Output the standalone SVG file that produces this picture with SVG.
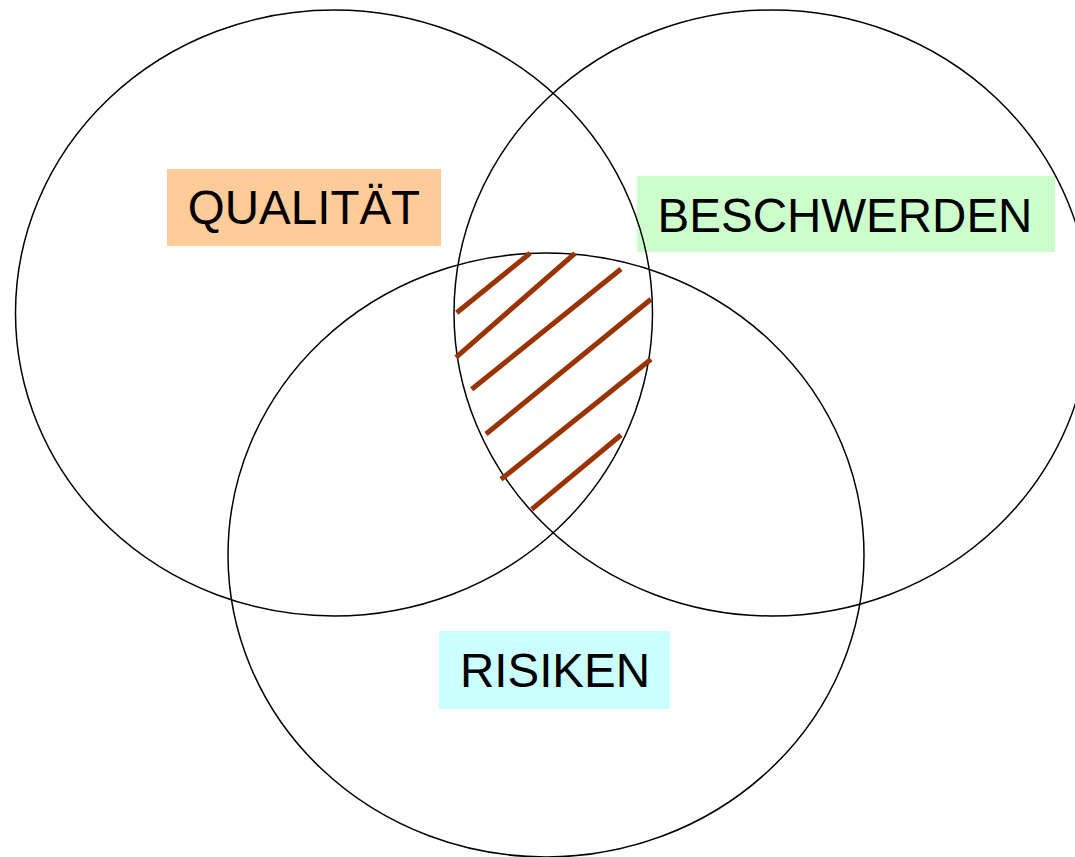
<svg xmlns="http://www.w3.org/2000/svg" width="1075" height="857" viewBox="0 0 1075 857">
<style>
.set{fill:none;stroke:#000;stroke-width:1.5}
.lbl{font-family:"Liberation Sans",Arial,sans-serif;font-size:47.5px;fill:#000;text-anchor:middle}
.hatch{stroke:#993300;stroke-width:5;stroke-linecap:butt}
</style>
<rect width="1075" height="857" fill="#fff"/>
<g id="label-qualitaet">
<rect x="167" y="169" width="274" height="77" fill="#FFCC99"/>
<text class="lbl" x="304" y="224">QUALITÄT</text>
</g>
<g id="label-beschwerden">
<rect x="637" y="176" width="418" height="76" fill="#CCFFCC"/>
<text class="lbl" x="845" y="232">BESCHWERDEN</text>
</g>
<g id="label-risiken">
<rect x="439" y="631" width="231" height="78" fill="#CCFFFF"/>
<text class="lbl" x="555" y="687">RISIKEN</text>
</g>
<g id="qualitaet">
<ellipse class="set" cx="334" cy="313" rx="318.5" ry="303"/>
</g>
<g id="beschwerden">
<ellipse class="set" cx="772" cy="313" rx="318" ry="303"/>
</g>
<g id="risiken">
<ellipse class="set" cx="546" cy="555" rx="318" ry="302"/>
</g>
<g id="intersection-hatch">
<line class="hatch" x1="530" y1="253.3" x2="456.7" y2="312.7"/>
<line class="hatch" x1="575" y1="253.3" x2="456" y2="357.3"/>
<line class="hatch" x1="621" y1="269" x2="471.7" y2="389.3"/>
<line class="hatch" x1="651" y1="299.3" x2="486" y2="434"/>
<line class="hatch" x1="651" y1="359.3" x2="501" y2="479.3"/>
<line class="hatch" x1="621" y1="435" x2="531.7" y2="509.3"/>
</g>
</svg>
